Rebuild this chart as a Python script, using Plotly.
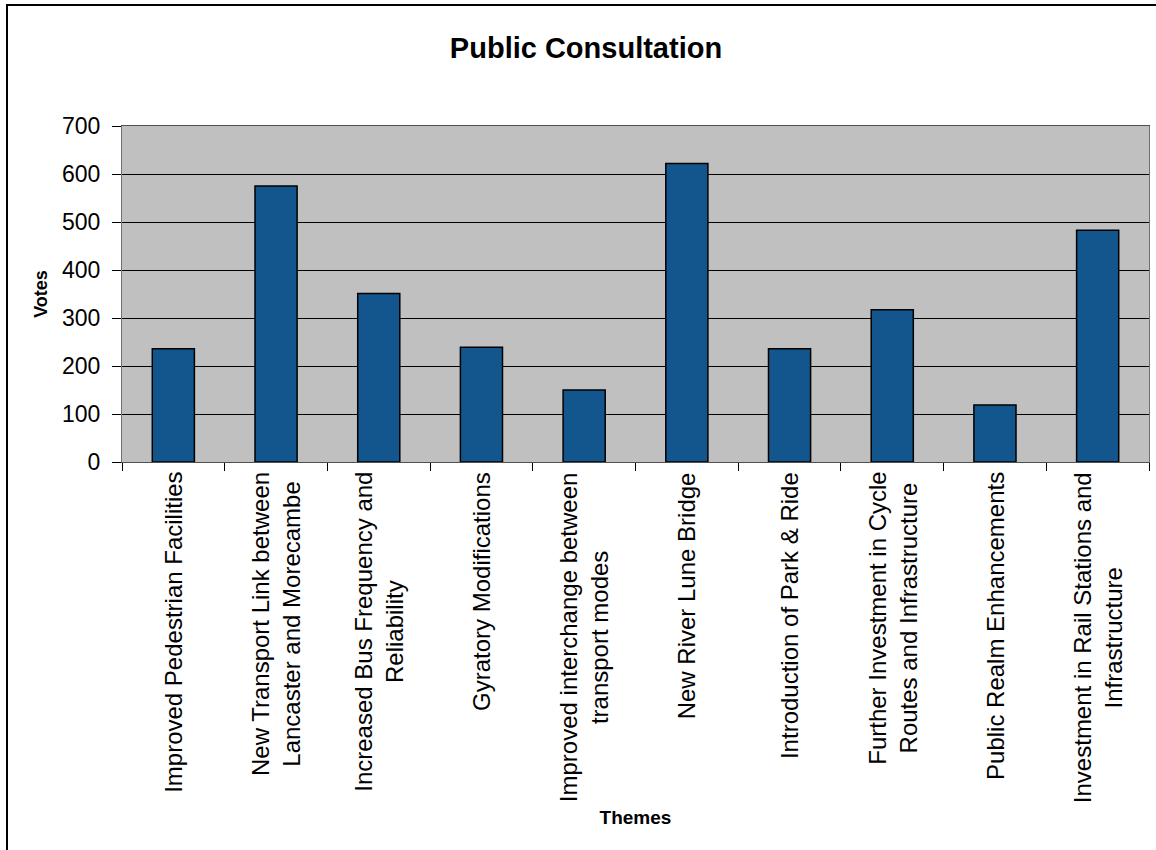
import plotly.graph_objects as go

# ---- data ----
categories = [
    "Improved Pedestrian Facilities",
    "New Transport Link between Lancaster and Morecambe",
    "Increased Bus Frequency and Reliability",
    "Gyratory Modifications",
    "Improved interchange between transport modes",
    "New River Lune Bridge",
    "Introduction of Park & Ride",
    "Further Investment in Cycle Routes and Infrastructure",
    "Public Realm Enhancements",
    "Investment in Rail Stations and Infrastructure",
]
tick_labels = [
    "Improved Pedestrian Facilities",
    "New Transport Link between<br>Lancaster and Morecambe",
    "Increased Bus Frequency and<br>Reliability",
    "Gyratory Modifications",
    "Improved interchange between<br>transport modes",
    "New River Lune Bridge",
    "Introduction of Park & Ride",
    "Further Investment in Cycle<br>Routes and Infrastructure",
    "Public Realm Enhancements",
    "Investment in Rail Stations and<br>Infrastructure",
]
votes = [236, 575, 351, 239, 150, 622, 236, 317, 119, 483]
y_ticks = [0, 100, 200, 300, 400, 500, 600, 700]

FONT = "Liberation Sans, Arial, Helvetica, sans-serif"
W, H = 1156, 850
L, R, T, B = 122, 7, 126, 388
PW, PH = W - L - R, H - T - B


def px_x(px):
    return (px - L) / PW


def px_y(py):
    return (H - B - py) / PH


fig = go.Figure(
    go.Bar(
        x=categories,
        y=votes,
        marker=dict(color="#12568D", line=dict(color="#000000", width=1.5)),
        showlegend=False,
    )
)

annotations = []
for cat, lab in zip(categories, tick_labels):
    annotations.append(
        dict(
            x=cat, xref="x", y=px_y(470), yref="paper",
            text=lab, textangle=-90, showarrow=False,
            xanchor="center", yanchor="top", align="center",
            font=dict(family=FONT, size=24, color="#000000"),
        )
    )

shapes = [
    # outer chart frame (top and left edges visible)
    dict(type="line", xref="paper", yref="paper",
         x0=px_x(6), x1=px_x(1162), y0=px_y(5), y1=px_y(5),
         line=dict(color="#000000", width=2)),
    dict(type="line", xref="paper", yref="paper",
         x0=px_x(7), x1=px_x(7), y0=px_y(5), y1=px_y(856),
         line=dict(color="#000000", width=2)),
]

fig.update_layout(
    width=W, height=H,
    margin=dict(l=L, r=R, t=T, b=B, autoexpand=False),
    paper_bgcolor="#FFFFFF",
    plot_bgcolor="#C0C0C0",
    bargap=0.59,
    font=dict(family=FONT, color="#000000"),
    title=dict(
        text="<b>Public Consultation</b>",
        x=586 / W, xref="container", xanchor="center",
        y=1 - 48 / H, yref="container", yanchor="middle",
        font=dict(family=FONT, size=29, color="#000000"),
    ),
    xaxis=dict(
        type="category",
        range=[-0.5, len(categories) - 0.5],
        showticklabels=False,
        ticks="outside", tickson="boundaries", ticklen=8, tickwidth=1, tickcolor="#000000",
        showline=True, linecolor="#505050", linewidth=1, mirror=True,
        showgrid=False, zeroline=False,
        title=dict(text="<b>Themes</b>", standoff=348,
                   font=dict(family=FONT, size=19, color="#000000")),
        automargin=False,
    ),
    yaxis=dict(
        range=[0, 700],
        tickmode="array", tickvals=y_ticks,
        ticks="outside", ticklen=9, tickwidth=1, tickcolor="#000000",
        tickfont=dict(family=FONT, size=23, color="#000000"),
        ticklabelstandoff=7,
        showline=True, linecolor="#707070", linewidth=1, mirror=True,
        showgrid=True, gridcolor="#000000", gridwidth=1,
        zeroline=False,
        title=dict(text="<b>Votes</b>", standoff=9,
                   font=dict(family=FONT, size=18, color="#000000")),
        automargin=False,
    ),
    annotations=annotations,
    shapes=shapes,
)

fig.write_html(
    "out.html",
    config={"displayModeBar": False},
    post_script="document.body.style.margin='0px';document.body.style.overflow='hidden';",
)
